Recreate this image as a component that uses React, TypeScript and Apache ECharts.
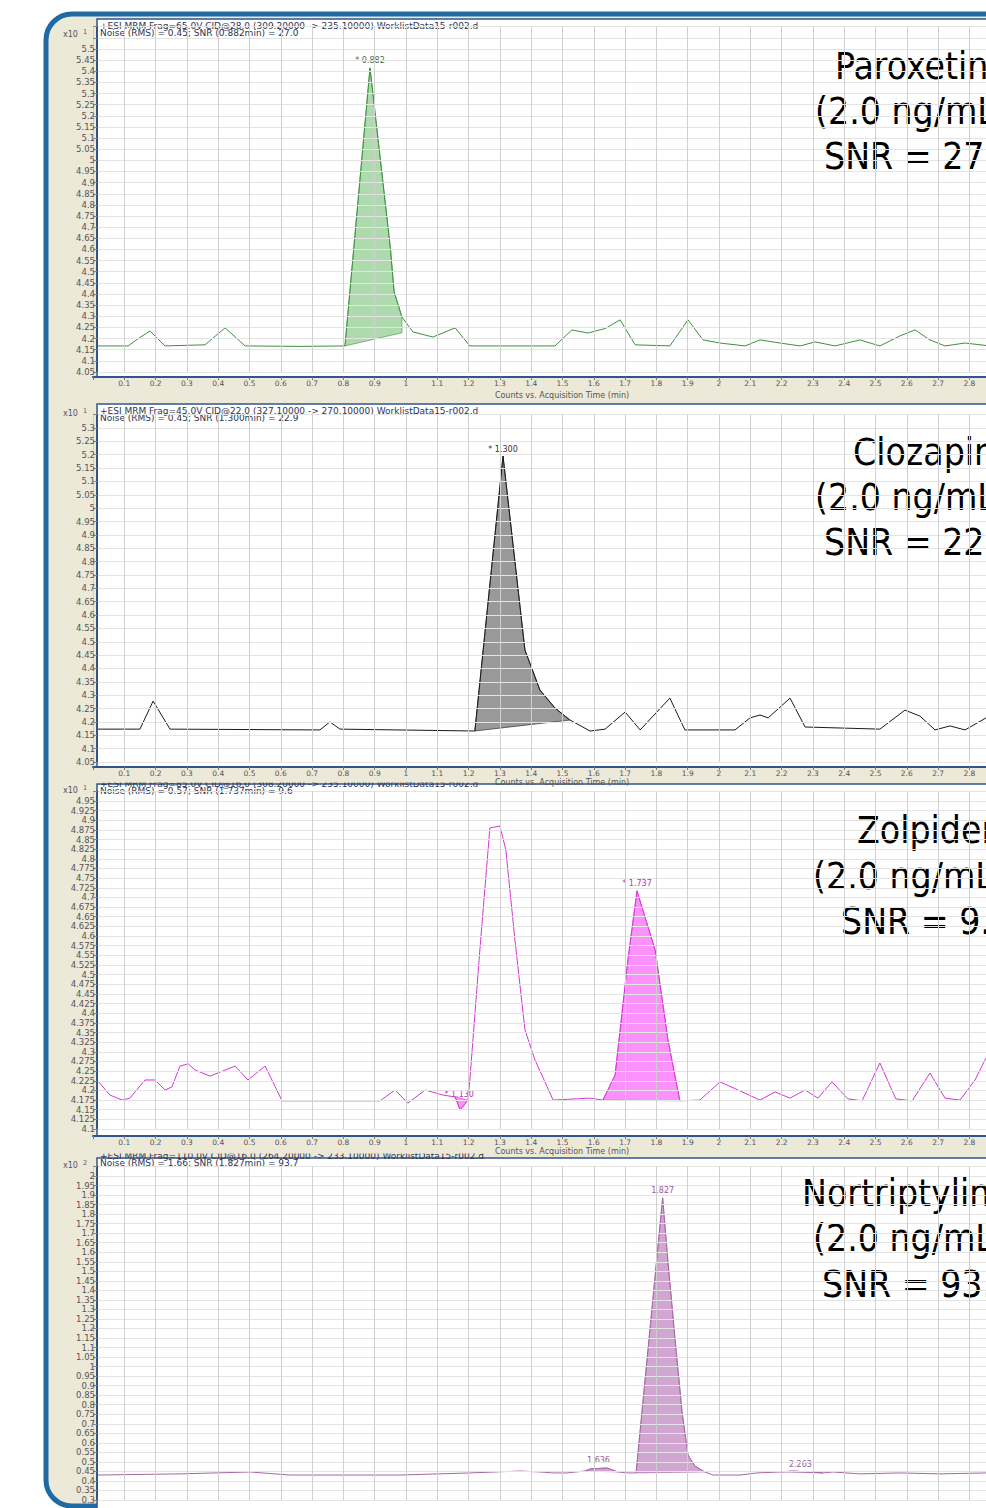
import React, { useEffect, useRef } from "react";
import * as echarts from "echarts";

// ---------- data (time in min, counts x10^n) ----------
const paroxetineTrace: [number, number][] = [
  [0.013, 4.167], [0.112, 4.167], [0.15, 4.205], [0.182, 4.234], [0.23, 4.167], [0.358, 4.172],
  [0.422, 4.248], [0.486, 4.167], [0.661, 4.165], [0.805, 4.167], [0.885, 5.415], [0.95, 4.607],
  [0.962, 4.41], [0.987, 4.297], [1.022, 4.23], [1.086, 4.207], [1.157, 4.248], [1.204, 4.167],
  [1.476, 4.167], [1.53, 4.239], [1.581, 4.225], [1.636, 4.245], [1.684, 4.284], [1.732, 4.172],
  [1.843, 4.167], [1.901, 4.284], [1.949, 4.194], [2.003, 4.18], [2.083, 4.167], [2.131, 4.194],
  [2.195, 4.18], [2.259, 4.167], [2.307, 4.185], [2.371, 4.167], [2.45, 4.194], [2.514, 4.167],
  [2.578, 4.212], [2.626, 4.239], [2.674, 4.194], [2.722, 4.167], [2.786, 4.18], [2.866, 4.167],
  [3.0, 4.175],
];
const paroxetineFills = [{ from: 0.805, to: 0.987, baseFrom: 4.167, baseTo: 4.226 }];
const paroxetineLabels = [{ t: 0.885, v: 5.415, text: "* 0.882" }];

const clozapineTrace: [number, number][] = [
  [0.013, 4.173], [0.15, 4.173], [0.192, 4.278], [0.246, 4.173], [0.725, 4.17], [0.757, 4.2],
  [0.789, 4.173], [1.22, 4.166], [1.31, 5.195], [1.38, 4.469], [1.428, 4.319], [1.476, 4.252],
  [1.524, 4.207], [1.588, 4.166], [1.636, 4.173], [1.7, 4.237], [1.748, 4.17], [1.843, 4.289],
  [1.891, 4.17], [2.051, 4.17], [2.099, 4.215], [2.131, 4.226], [2.157, 4.215], [2.227, 4.289],
  [2.275, 4.181], [2.514, 4.173], [2.594, 4.244], [2.642, 4.222], [2.69, 4.17], [2.738, 4.185],
  [2.786, 4.17], [2.853, 4.215], [2.9, 4.19],
];
const clozapineFills = [{ from: 1.22, to: 1.524, baseFrom: 4.166, baseTo: 4.207 }];
const clozapineLabels = [{ t: 1.31, v: 5.195, text: "* 1.300" }];

const zolpidemTrace: [number, number][] = [
  [0.013, 4.227], [0.054, 4.188], [0.093, 4.175], [0.118, 4.18], [0.166, 4.227], [0.198, 4.227],
  [0.23, 4.201], [0.252, 4.209], [0.278, 4.263], [0.304, 4.269], [0.326, 4.253], [0.374, 4.237],
  [0.454, 4.263], [0.495, 4.227], [0.55, 4.263], [0.604, 4.173], [0.917, 4.173], [0.965, 4.201],
  [1.006, 4.167], [1.061, 4.201], [1.118, 4.188], [1.157, 4.183], [1.173, 4.149], [1.198, 4.175],
  [1.204, 4.227], [1.236, 4.564], [1.268, 4.88], [1.3, 4.885], [1.319, 4.823], [1.348, 4.59],
  [1.38, 4.357], [1.412, 4.279], [1.47, 4.175], [1.588, 4.18], [1.629, 4.175], [1.668, 4.24],
  [1.709, 4.538], [1.738, 4.717], [1.796, 4.564], [1.837, 4.331], [1.875, 4.173], [1.939, 4.175],
  [2.003, 4.222], [2.061, 4.201], [2.131, 4.175], [2.179, 4.196], [2.227, 4.18], [2.275, 4.201],
  [2.316, 4.18], [2.361, 4.222], [2.412, 4.178], [2.457, 4.173], [2.514, 4.271], [2.565, 4.178],
  [2.617, 4.173], [2.674, 4.245], [2.722, 4.18], [2.77, 4.175], [2.818, 4.227], [2.853, 4.284],
  [2.9, 4.33],
];
const zolpidemFills = [
  { from: 1.629, to: 1.875, baseFrom: 4.175, baseTo: 4.173 },
  { from: 1.157, to: 1.198, baseFrom: 4.183, baseTo: 4.175 },
];
const zolpidemLabels = [
  { t: 1.738, v: 4.717, text: "* 1.737" },
  { t: 1.17, v: 4.17, text: "* 1.130" },
];

const nortriptylineTrace: [number, number][] = [
  [0.013, 0.431], [0.278, 0.437], [0.502, 0.447], [0.629, 0.431], [0.981, 0.431], [1.204, 0.442],
  [1.364, 0.452], [1.428, 0.447], [1.47, 0.442], [1.514, 0.442], [1.572, 0.452], [1.588, 0.463],
  [1.642, 0.468], [1.677, 0.447], [1.709, 0.442], [1.735, 0.442], [1.82, 1.885], [1.837, 1.549],
  [1.859, 1.155], [1.882, 0.762], [1.901, 0.536], [1.923, 0.478], [1.955, 0.447], [1.981, 0.431],
  [2.067, 0.431], [2.121, 0.442], [2.195, 0.447], [2.236, 0.452], [2.332, 0.442], [2.364, 0.447],
  [2.45, 0.437], [2.578, 0.442], [2.706, 0.437], [2.853, 0.442], [3.0, 0.44],
];
const nortriptylineFills = [
  { from: 1.572, to: 1.677, baseFrom: 0.452, baseTo: 0.447 },
  { from: 1.735, to: 1.955, baseFrom: 0.442, baseTo: 0.447 },
  { from: 2.195, to: 2.332, baseFrom: 0.447, baseTo: 0.442 },
];
const nortriptylineLabels = [
  { t: 1.82, v: 1.885, text: "1.827" },
  { t: 1.615, v: 0.468, text: "1.636" },
  { t: 2.26, v: 0.452, text: "2.263" },
];

const headers = [
  ["+ESI MRM Frag=65.0V CID@28.0 (309.20000 -> 235.10000) WorklistData15-r002.d", "Noise (RMS) = 0.45; SNR (0.882min) = 27.0"],
  ["+ESI MRM Frag=45.0V CID@22.0 (327.10000 -> 270.10000) WorklistData15-r002.d", "Noise (RMS) = 0.45; SNR (1.300min) = 22.9"],
  ["+ESI MRM Frag=85.0V CID@16.0 (308.20000 -> 235.10000) WorklistData15-r002.d", "Noise (RMS) = 0.57; SNR (1.737min) = 9.6"],
  ["+ESI MRM Frag=110.0V CID@16.0 (264.20000 -> 233.10000) WorklistData15-r002.d", "Noise (RMS) = 1.66; SNR (1.827min) = 93.7"],
];
const names = [
  ["Paroxetine", "(2.0 ng/mL)", "SNR = 27.0"],
  ["Clozapine", "(2.0 ng/mL)", "SNR = 22.9"],
  ["Zolpidem", "(2.0 ng/mL)", "SNR = 9.6"],
  ["Nortriptyline", "(2.0 ng/mL)", "SNR = 93.7"],
];
const unitExponents = ["1", "1", "1", "2"];
const xAxisTitle = "Counts vs. Acquisition Time (min)";

// y axis ranges: [min, max, step, highest labelled tick]
const yRanges = [
  [4.05, 5.6, 0.05, 5.5],
  [4.05, 5.35, 0.05, 5.3],
  [4.1, 4.975, 0.025, 4.95],
  [0.3, 2.05, 0.05, 2.0],
];
const xRange = [0, 3.2, 0.1];

// ---------- layout / style ----------
const FONT = "'DejaVu Sans', Verdana, sans-serif";
const BIG_FONT = "'DejaVu Sans Condensed', 'DejaVu Sans', sans-serif";
const BEIGE = "#ece9d8";
const FRAME_BLUE = "#1d6aa5";
const PLOT_BLUE = "#31548e";

const layout = [
  { gridTop: 26.66, gridBottom: 372, white: [19, 377], xOff: 5, head: [26, 33], title: 395, names: [66, 111, 156], nameX: [835, 815, 824], unitY: 34 },
  { gridTop: 414.64, gridBottom: 762, white: [404, 767], xOff: 5, head: [411, 418], title: 782, names: [452, 497, 542], nameX: [853, 815, 824], unitY: 413 },
  { gridTop: 791.25, gridBottom: 1129, white: [784, 1136], xOff: 7, head: [784, 791], title: 1151, names: [830, 876, 921], nameX: [857, 813, 841], unitY: 790 },
  { gridTop: 1166.45, gridBottom: 1500, white: [1158, 1540], xOff: 7, head: [1156, 1163], title: 0, names: [1193, 1238, 1284], nameX: [802, 813, 822], unitY: 1165 },
];
const styles = [
  { line: "#3f8f3f", fill: "rgba(120,195,120,0.6)", label: "#4a6a4a" },
  { line: "#1a1a1a", fill: "rgba(110,110,110,0.7)", label: "#333333" },
  { line: "#d437d4", fill: "rgba(250,110,250,0.75)", label: "#c030c0" },
  { line: "#a467a4", fill: "rgba(190,130,190,0.7)", label: "#9a5a9a" },
];

const traces = [paroxetineTrace, clozapineTrace, zolpidemTrace, nortriptylineTrace];
const fills = [paroxetineFills, clozapineFills, zolpidemFills, nortriptylineFills];
const peakLabels = [paroxetineLabels, clozapineLabels, zolpidemLabels, nortriptylineLabels];

const X0 = 93;
const PX_PER_MIN = 313;

function fmt(v: number) {
  return String(parseFloat(v.toFixed(3)));
}

function buildOption() {
  const grid: any[] = [];
  const xAxis: any[] = [];
  const yAxis: any[] = [];
  const series: any[] = [];
  const graphic: any[] = [];

  graphic.push({
    type: "rect", z: -20, silent: true,
    shape: { x: 46, y: 14, width: 1100, height: 1492, r: 26 },
    style: { fill: BEIGE, stroke: FRAME_BLUE, lineWidth: 5 },
  });

  layout.forEach((L, i) => {
    const [ymin, ymax, ystep, ytop] = yRanges[i];
    const last = i === layout.length - 1;
    grid.push({
      left: X0, top: L.gridTop, width: PX_PER_MIN * (xRange[1] - xRange[0]), height: L.gridBottom - L.gridTop,
      outerBoundsMode: "none", containLabel: false,
    });
    xAxis.push({
      type: "value", gridIndex: i, min: xRange[0], max: xRange[1], interval: xRange[2], offset: L.xOff, z: 20,
      axisLine: { show: !last, lineStyle: { color: PLOT_BLUE, width: 2 } },
      axisTick: { show: !last, length: 3, lineStyle: { color: "#777" } },
      axisLabel: { show: !last, fontSize: 7.5, fontFamily: FONT, color: "#555", margin: 2, formatter: (v: number) => (v < 0.05 ? "" : fmt(v)) },
      splitLine: { show: true, lineStyle: { color: "#cfcfcf", width: 1 } },
    });
    yAxis.push({
      type: "value", gridIndex: i, min: ymin, max: ymax, interval: ystep, offset: -4, z: 20,
      axisLine: { show: true, lineStyle: { color: PLOT_BLUE, width: 2 } },
      axisTick: { show: true, length: 4, lineStyle: { color: "#888" } },
      axisLabel: { fontSize: 8.5, fontFamily: FONT, color: "#555", margin: 2, formatter: (v: number) => (v > ytop + 1e-6 ? "" : fmt(v)) },
      splitLine: { show: true, lineStyle: { color: "#e4e4e4", width: 1 } },
    });

    const st = styles[i];
    const tr = traces[i];
    const fl = fills[i];
    series.push({
      type: "custom", xAxisIndex: i, yAxisIndex: i, z: 3, silent: true,
      data: fl.map((f) => [f.from, f.baseFrom]),
      renderItem: (params: any, api: any) => {
        const f = fl[params.dataIndex];
        const pts = tr.filter((p) => p[0] >= f.from - 1e-9 && p[0] <= f.to + 1e-9).map((p) => api.coord(p));
        pts.push(api.coord([f.to, f.baseTo]));
        pts.push(api.coord([f.from, f.baseFrom]));
        return { type: "polygon", shape: { points: pts }, style: { fill: st.fill, stroke: st.line, lineWidth: 0.6 } };
      },
    });
    series.push({
      type: "line", xAxisIndex: i, yAxisIndex: i, z: 5, data: tr, symbol: "none", showSymbol: false,
      lineStyle: { color: st.line, width: 1 },
      markPoint: {
        symbol: "circle", symbolSize: 0, silent: true,
        label: { show: true, position: "top", distance: 3, fontSize: 8, fontFamily: FONT, color: st.label },
        data: peakLabels[i].map((l) => ({ coord: [l.t, l.v], value: l.text, label: { formatter: l.text } })),
      },
    });

    // panel white area with blue border
    graphic.push({
      type: "rect", z: -10, silent: true,
      shape: { x: 97, y: L.white[0], width: 1000, height: L.white[1] - L.white[0] },
      style: { fill: "#ffffff", stroke: PLOT_BLUE, lineWidth: 1.5 },
    });
    // header lines
    L.head.forEach((y, k) => {
      graphic.push({
        type: "text", z: 12, silent: true, x: 100, y,
        style: { text: headers[i][k], fill: "#2c3550", fontSize: 9, fontFamily: FONT, textVerticalAlign: "middle" },
      });
    });
    // unit label x10^n
    graphic.push({
      type: "text", z: 12, silent: true, x: 63, y: L.unitY,
      style: { text: "x10", fill: "#555", fontSize: 8, fontFamily: FONT, textVerticalAlign: "middle" },
    });
    graphic.push({
      type: "text", z: 12, silent: true, x: 83, y: L.unitY - 2,
      style: { text: unitExponents[i], fill: "#555", fontSize: 6.5, fontFamily: FONT, textVerticalAlign: "middle" },
    });
    // compound names
    L.names.forEach((y, k) => {
      graphic.push({
        type: "text", z: 14, silent: true, x: L.nameX[k], y,
        style: { text: names[i][k], fill: "#000", fontSize: 37, fontFamily: BIG_FONT, textVerticalAlign: "middle" },
      });
    });
  });

  // beige bands partly covering the following panel's first header line
  graphic.push({ type: "rect", z: 15, silent: true, shape: { x: 50, y: 768, width: 1000, height: 14.5 }, style: { fill: BEIGE } });
  graphic.push({ type: "rect", z: 15, silent: true, shape: { x: 50, y: 1137, width: 1000, height: 16.5 }, style: { fill: BEIGE } });
  // x axis titles (above the bands)
  layout.slice(0, 3).forEach((L) => {
    graphic.push({
      type: "text", z: 16, silent: true, x: 562, y: L.title,
      style: { text: xAxisTitle, fill: "#555", fontSize: 8, fontFamily: FONT, textAlign: "center", textVerticalAlign: "middle" },
    });
  });

  return { animation: false, backgroundColor: "#ffffff", grid, xAxis, yAxis, series, graphic };
}

export default function App() {
  const ref = useRef<HTMLDivElement>(null);
  useEffect(() => {
    document.body.style.margin = "0";
    document.body.style.overflow = "hidden";
    const chart = echarts.init(ref.current!, undefined, { renderer: "svg" });
    chart.setOption(buildOption() as any);
    return () => chart.dispose();
  }, []);
  return <div ref={ref} style={{ width: 986, height: 1508, overflow: "hidden" }} />;
}
